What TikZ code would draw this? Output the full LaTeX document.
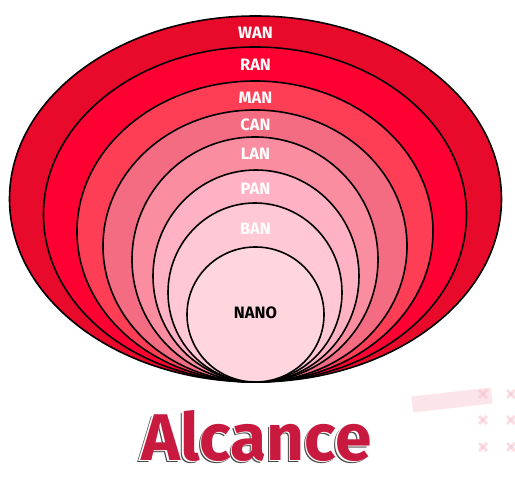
\documentclass[tikz,border=0pt]{standalone}
\usepackage{fontspec}
\setmainfont{Fira Sans}
\usetikzlibrary{shapes.geometric, positioning}
\definecolor{wanred}{RGB}{232,10,42}
\definecolor{ranred}{RGB}{255,0,50}
\definecolor{manred}{RGB}{254,62,85}
\definecolor{canpink}{RGB}{243,108,130}
\definecolor{lanpink}{RGB}{250,142,160}
\definecolor{panpink}{RGB}{255,178,196}
\definecolor{banpink}{RGB}{255,200,212}
\definecolor{nanopink}{RGB}{255,214,222}
\definecolor{titlered}{RGB}{200,25,63}
\definecolor{shadowgray}{RGB}{70,70,70}
\definecolor{decopink}{RGB}{246,190,202}

\begin{document}
\begin{tikzpicture}[
        x=1pt, y=-1pt,
        ring/.style={ellipse, draw=black, line width=1.6pt, inner sep=0pt},
        tag/.style={font=\bfseries\fontsize{16.5}{16.5}\selectfont, text=white, inner sep=0pt},
        title/.style={font=\bfseries\fontsize{66}{66}\selectfont, inner sep=0pt, xscale=1.0},
        cross/.style={decopink, line width=3pt, opacity=0.5}
    ]
        \useasboundingbox (0,0) rectangle (515,481);

        % nested rings, all touching at the bottom
        \node[ring, fill=wanred, minimum width=492, minimum height=366] (wan) at (255.5,199) {};
        \node[ring, fill=ranred, minimum width=423, minimum height=335] (ran) at (255,214.5) {};
        \node[ring, fill=manred, minimum width=356, minimum height=301] (man) at (255,231.5) {};
        \node[ring, fill=canpink, minimum width=304, minimum height=272] (can) at (255,246) {};
        \node[ring, fill=lanpink, minimum width=246, minimum height=245] (lan) at (255,259.5) {};
        \node[ring, fill=panpink, minimum width=206, minimum height=212] (pan) at (256,276) {};
        \node[ring, fill=banpink, minimum width=174, minimum height=179] (ban) at (255,292.5) {};
        \node[ring, fill=nanopink, minimum width=137, minimum height=135] (nano) at (255.5,314.5) {};

        % ring names
        \node[tag] (wanname) at (255.5,33) {WAN};
        \node[tag] (ranname) at (255.5,65) {RAN};
        \node[tag] (manname) at (255.5,98) {MAN};
        \node[tag] (canname) at (255.5,125) {CAN};
        \node[tag] (lanname) at (255.5,154) {LAN};
        \node[tag] (panname) at (255.5,189) {PAN};
        \node[tag] (banname) at (255.5,229) {BAN};
        \node[tag, text=black] (nanoname) at (255.5,313) {NANO};

        % title with offset outline
        \node[title, text=shadowgray] (titleshade) at (254,438.5) {Alcance};
        \node[title, text=white] (titlegap) at (255,437.5) {Alcance};
        \node[title, text=titlered] (titletext) at (256.5,436) {Alcance};

        % faded corner decoration
        \fill[decopink, opacity=0.4, rotate around={6.5:(452,400)}] (412,392) rectangle (492,408);
        \foreach \cx in {483,511}
            \foreach \cy in {394,420,447} {
                \draw[cross] (\cx-4,\cy-4) -- (\cx+4,\cy+4);
                \draw[cross] (\cx-4,\cy+4) -- (\cx+4,\cy-4);
            }
    \end{tikzpicture}
\end{document}
